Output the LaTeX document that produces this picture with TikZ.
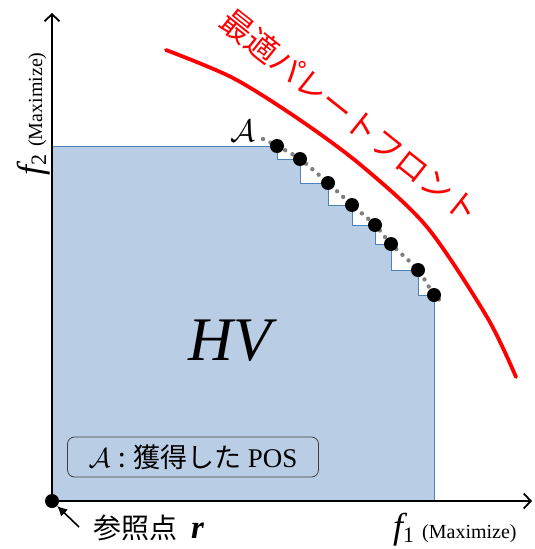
\documentclass[tikz,border=0pt]{standalone}
\usepackage{fontspec}
\setmainfont{Liberation Serif}
\newfontfamily\jp{Noto Sans CJK JP}
\usetikzlibrary{arrows.meta}
\definecolor{hvfill}{RGB}{185,205,229}
\definecolor{hvline}{RGB}{79,129,189}
\definecolor{dotgray}{RGB}{128,128,128}
\definecolor{legline}{RGB}{64,64,64}
\begin{document}
\begin{tikzpicture}[x=1pt,y=-1pt,
  solpt/.style={circle,fill=black,minimum size=14pt,inner sep=0pt},
  axisline/.style={line width=1.8pt,-{Straight Barb[length=7pt,width=15pt,line width=1.8pt]}},
  stairline/.style={draw=hvline,line width=1pt},
  dotline/.style={dotgray,line width=4.4pt,line cap=round,dash pattern=on 0pt off 8.3pt},
  frontline/.style={red,line width=3.8pt,line cap=round},
  legbox/.style={draw=legline,line width=0.8pt,rounded corners=7pt,minimum width=251pt,minimum height=40pt,inner sep=0pt}
]
\useasboundingbox (0,0) rectangle (535,549);
% coordinates
\coordinate (O) at (52,501);
\coordinate (c1) at (277,146);
\coordinate (c2) at (300,159);
\coordinate (c3) at (328,183);
\coordinate (c4) at (352,205);
\coordinate (c5) at (375,225);
\coordinate (c6) at (391,244);
\coordinate (c7) at (418,270);
\coordinate (c8) at (434,295);
\coordinate (dstart) at (263,139);
\coordinate (dend) at (443,302);
\coordinate (xend) at (532,501);
\coordinate (yend) at (52,13);
\coordinate (arrstart) at (79,527);
% HV region
\fill[hvfill] (O |- c1) -- (c1) -- (c1 |- c2) -- (c2) -- (c2 |- c3) -- (c3) -- (c3 |- c4) -- (c4)
  -- (c4 |- c5) -- (c5) -- (c5 |- c6) -- (c6) -- (c6 |- c7) -- (c7) -- (c7 |- c8) -- (c8)
  -- (c8 |- O) -- (O) -- cycle;
\draw[stairline] (O |- c1) -- (c1) -- (c1 |- c2) -- (c2) -- (c2 |- c3) -- (c3) -- (c3 |- c4) -- (c4)
  -- (c4 |- c5) -- (c5) -- (c5 |- c6) -- (c6) -- (c6 |- c7) -- (c7) -- (c7 |- c8) -- (c8)
  -- (c8 |- O);
% dotted approximation
\draw[dotline] plot[smooth] coordinates {(dstart) (c1) (c2) (c3) (c4) (c5) (c6) (c7) (c8) (dend)};
% true Pareto front
\draw[frontline] plot[smooth] coordinates {(166,50) (233,78) (300,120) (362,166) (427,227) (487,317) (516,377)};
\node[red,rotate=-38.5] (pflab) at (350,116) {\fontsize{32}{32}\selectfont\jp 最適パレートフロント};
% points
\node[solpt] (p1) at (c1) {};
\node[solpt] (p2) at (c2) {};
\node[solpt] (p3) at (c3) {};
\node[solpt] (p4) at (c4) {};
\node[solpt] (p5) at (c5) {};
\node[solpt] (p6) at (c6) {};
\node[solpt] (p7) at (c7) {};
\node[solpt] (p8) at (c8) {};
\node (alab) at (243,131) {\fontsize{24}{24}\selectfont\scalebox{1.25}{$\mathcal{A}$}};
% axes
\draw[axisline] (O) -- (xend);
\draw[axisline] (O) -- (yend);
\node[solpt] (r) at (O) {};
% labels
\node[anchor=base west,inner sep=0pt] (f1lab) at (393,538)
  {{\fontsize{36}{36}\selectfont\itshape f}\raisebox{-4pt}{\fontsize{22}{22}\selectfont 1}\hspace{8pt}{\fontsize{20}{20}\selectfont (Maximize)}};
\node[anchor=base west,inner sep=0pt,rotate=90] (f2lab) at (42,176)
  {{\fontsize{36}{36}\selectfont\itshape f}\raisebox{-4pt}{\fontsize{22}{22}\selectfont 2}\hspace{8pt}{\fontsize{20}{20}\selectfont (Maximize)}};
\node (hv) at (230,341) {\fontsize{62}{62}\selectfont\itshape HV};
\node[legbox] (leg) at (193,457) {\fontsize{27}{27}\selectfont \scalebox{1.1}{$\mathcal{A}$}\hspace{8pt}{\jp :\hspace{8pt}獲得した}\hspace{6pt}POS};
\node[anchor=base west,inner sep=0pt] (rlab) at (93,538)
  {\fontsize{28}{28}\selectfont{\jp 参照点}\hspace{14pt}{\fontsize{33}{33}\selectfont\textbf{\textit{r}}}};
\draw[line width=1.6pt,-{Latex[length=10pt,width=10pt]}] (arrstart) -- (r);
\end{tikzpicture}
\end{document}
